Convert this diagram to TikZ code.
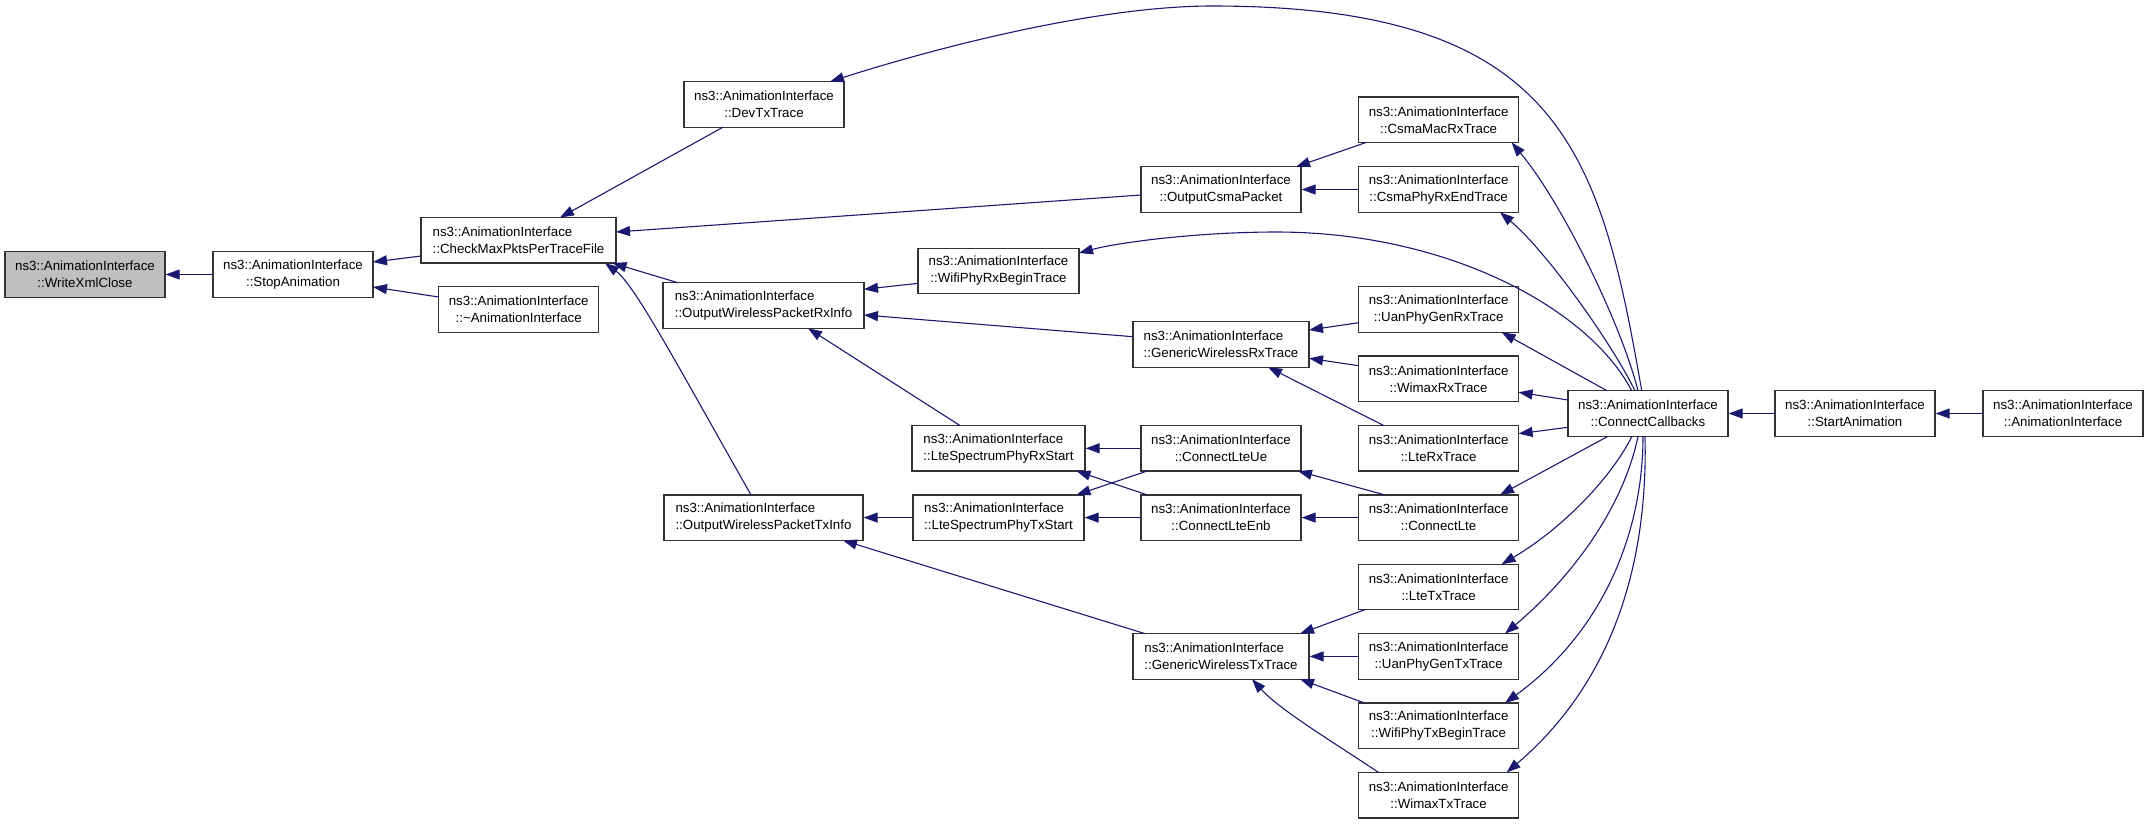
\documentclass[tikz,border=0pt]{standalone}
\usepackage{fontspec}
\setmainfont{Liberation Sans}
\usetikzlibrary{arrows.meta,calc}
\definecolor{edgeblue}{HTML}{191970}
\definecolor{boxline}{HTML}{333333}
\definecolor{hlfill}{HTML}{BFBFBF}
\begin{document}
\begin{tikzpicture}[x=1pt,y=-1pt,
  fn/.style={draw=boxline, line width=1.3pt, fill=white, rectangle, minimum height=45.5pt, inner sep=0pt, align=center, font=\fontsize{13.3}{17}\selectfont},
  fnl/.style={fn, align=left},
  w160/.style={minimum width=160pt},
  e/.style={draw=edgeblue, line width=1.1pt, -{Triangle[length=14pt,width=10pt]}}]
\useasboundingbox (0,0) rectangle (2149,823);
% nodes
\node[fn, w160, fill=hlfill] (wxc) at (85,274.5) {ns3::AnimationInterface\\::WriteXmlClose};
\node[fn, w160] (stop) at (293,274.5) {ns3::AnimationInterface\\::StopAnimation};
\node[fnl, minimum width=195pt] (chk) at (518.5,240.3) {ns3::AnimationInterface\\::CheckMaxPktsPerTraceFile};
\node[fn, w160] (dtor) at (518.7,309.5) {ns3::AnimationInterface\\::\textasciitilde AnimationInterface};
\node[fn, w160] (devtx) at (764,104.4) {ns3::AnimationInterface\\::DevTxTrace};
\node[fnl, minimum width=201pt] (owprx) at (763.5,305.5) {ns3::AnimationInterface\\::OutputWirelessPacketRxInfo};
\node[fnl, minimum width=199pt] (owptx) at (763.5,517.6) {ns3::AnimationInterface\\::OutputWirelessPacketTxInfo};
\node[fn, minimum width=161pt] (wifirx) at (998.5,271) {ns3::AnimationInterface\\::WifiPhyRxBeginTrace};
\node[fnl, minimum width=173pt] (ltesrx) at (998.5,448.3) {ns3::AnimationInterface\\::LteSpectrumPhyRxStart};
\node[fnl, minimum width=171pt] (ltestx) at (998.5,517.6) {ns3::AnimationInterface\\::LteSpectrumPhyTxStart};
\node[fn, w160] (csma) at (1221,189.5) {ns3::AnimationInterface\\::OutputCsmaPacket};
\node[fnl, minimum width=176pt] (gwrx) at (1221,344.4) {ns3::AnimationInterface\\::GenericWirelessRxTrace};
\node[fn, w160] (lteue) at (1221,448.3) {ns3::AnimationInterface\\::ConnectLteUe};
\node[fn, w160] (lteenb) at (1221,517.6) {ns3::AnimationInterface\\::ConnectLteEnb};
\node[fnl, minimum width=176pt] (gwtx) at (1221,656.4) {ns3::AnimationInterface\\::GenericWirelessTxTrace};
\node[fn, w160] (g1) at (1438.6,119.75) {ns3::AnimationInterface\\::CsmaMacRxTrace};
\node[fn, w160] (g2) at (1438.6,189.5) {ns3::AnimationInterface\\::CsmaPhyRxEndTrace};
\node[fn, w160] (g3) at (1438.6,309.5) {ns3::AnimationInterface\\::UanPhyGenRxTrace};
\node[fn, w160] (g4) at (1438.6,378.8) {ns3::AnimationInterface\\::WimaxRxTrace};
\node[fn, w160] (g5) at (1438.6,448.2) {ns3::AnimationInterface\\::LteRxTrace};
\node[fn, w160] (g6) at (1438.6,517.6) {ns3::AnimationInterface\\::ConnectLte};
\node[fn, w160] (g7) at (1438.6,587) {ns3::AnimationInterface\\::LteTxTrace};
\node[fn, w160] (g8) at (1438.6,656.4) {ns3::AnimationInterface\\::UanPhyGenTxTrace};
\node[fn, w160] (g9) at (1438.6,725.8) {ns3::AnimationInterface\\::WifiPhyTxBeginTrace};
\node[fn, w160] (g10) at (1438.6,795.2) {ns3::AnimationInterface\\::WimaxTxTrace};
\node[fn, w160] (cc) at (1648,413.5) {ns3::AnimationInterface\\::ConnectCallbacks};
\node[fn, w160] (start) at (1855,413.5) {ns3::AnimationInterface\\::StartAnimation};
\node[fn, w160] (ai) at (2063,413.5) {ns3::AnimationInterface\\::AnimationInterface};
% edges
\draw[e] (stop.west) -- (wxc.east);
\draw[e] ($(chk)+(-97.5,15.7)$) -- ($(stop)+(80,-12.5)$);
\draw[e] ($(dtor)+(-80,-12.5)$) -- ($(stop)+(80,12.5)$);
\draw[e] ($(devtx)+(-41,22.75)$) -- ($(chk)+(41.5,-22.75)$);
\draw[e] ($(csma)+(-80,5.5)$) -- ($(chk)+(97.5,-8.3)$);
\draw[e] ($(owprx)+(-85.5,-22.75)$) -- ($(chk)+(94,22.75)$);
\draw[e] ($(owptx)+(-12.5,-22.75)$) .. controls (680,370) and (635,285) .. ($(chk)+(86.5,22.75)$);
\draw[e] ($(cc)+(-6.3,-22.75)$) .. controls (1600,150) and (1560,6) .. (1212,6) .. controls (1100,6) and (943,45.6) .. ($(devtx)+(66,-22.75)$);
\draw[e] ($(g1)+(-72.6,22.75)$) -- ($(csma)+(75,-22.75)$);
\draw[e] (g2.west) -- (csma.east);
\draw[e] ($(cc)+(-10,-22.75)$) .. controls (1620,320) and (1560,200) .. ($(g1)+(73,22.75)$);
\draw[e] ($(cc)+(-13,-22.75)$) .. controls (1610,340) and (1545,250) .. ($(g2)+(61.4,22.75)$);
\draw[e] ($(cc)+(-16.3,-22.75)$) .. controls (1590,310) and (1450,232) .. (1276,232) .. controls (1200,232) and (1120,242) .. ($(wifirx)+(80.5,-18)$);
\draw[e] ($(wifirx)+(-80.5,12.3)$) -- ($(owprx)+(100.5,-16.2)$);
\draw[e] ($(gwrx)+(-88,-7.7)$) -- ($(owprx)+(100.5,9.5)$);
\draw[e] ($(ltesrx)+(-38.5,-22.75)$) -- ($(owprx)+(44.5,22.75)$);
\draw[e] ($(g3)+(-80,13.2)$) -- ($(gwrx)+(88,-14.4)$);
\draw[e] ($(g4)+(-80,-13.1)$) -- ($(gwrx)+(88,13.9)$);
\draw[e] ($(g5)+(-55,-22.75)$) -- ($(gwrx)+(47,22.75)$);
\draw[e] ($(cc)+(-41,-22.75)$) -- ($(g3)+(63,22.75)$);
\draw[e] ($(cc)+(-80,-13.5)$) -- ($(g4)+(80,13.5)$);
\draw[e] ($(cc)+(-80,13.8)$) -- ($(g5)+(80,-14.5)$);
\draw[e] (lteue.west) -- (ltesrx.east);
\draw[e] ($(lteenb)+(-74,-22.75)$) -- ($(ltesrx)+(78,22.75)$);
\draw[e] ($(lteue)+(-74,22.75)$) -- ($(ltestx)+(78,-22.75)$);
\draw[e] (lteenb.west) -- (ltestx.east);
\draw[e] (ltestx.west) -- (owptx.east);
\draw[e] ($(gwtx)+(-76,-22.75)$) -- ($(owptx)+(79.5,22.75)$);
\draw[e] ($(g6)+(-54,-22.75)$) -- ($(lteue)+(77,22.75)$);
\draw[e] (g6.west) -- (lteenb.east);
\draw[e] ($(cc)+(-40,22.75)$) -- ($(g6)+(61.4,-22.75)$);
\draw[e] (start.west) -- (cc.east);
\draw[e] (ai.west) -- (start.east);
\draw[e] ($(g7)+(-74,22.75)$) -- ($(gwtx)+(79,-22.75)$);
\draw[e] (g8.west) -- (gwtx.east);
\draw[e] ($(g9)+(-74,-22.75)$) -- ($(gwtx)+(79,22.75)$);
\draw[e] ($(g10)+(-60,-22.75)$) .. controls (1330,740) and (1280,710) .. ($(gwtx)+(31,22.75)$);
\draw[e] ($(cc)+(-16,22.75)$) .. controls (1610,480) and (1560,530) .. ($(g7)+(63,-22.75)$);
\draw[e] ($(cc)+(-10,22.75)$) .. controls (1625,500) and (1580,570) .. ($(g8)+(66.4,-22.75)$);
\draw[e] ($(cc)+(-5,22.75)$) .. controls (1643,530) and (1605,630) .. ($(g9)+(66.4,-22.75)$);
\draw[e] ($(cc)+(-3,22.75)$) .. controls (1648,560) and (1615,680) .. ($(g10)+(68,-22.75)$);
\end{tikzpicture}
\end{document}
